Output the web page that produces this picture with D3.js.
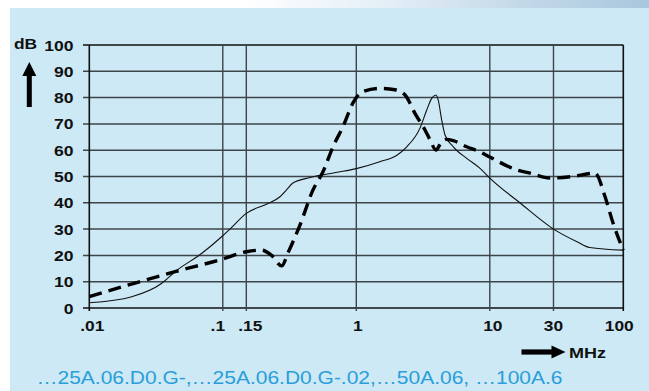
<!DOCTYPE html>
<html>
<head>
<meta charset="utf-8">
<script src="https://cdn.jsdelivr.net/npm/d3@7"></script>
<style>
  html, body { margin: 0; padding: 0; background: #ffffff; }
  svg { display: block; }
  text { font-family: "Liberation Sans", Arial, sans-serif; }
</style>
</head>
<body>
<svg id="chart" width="649" height="391"></svg>
<script>
// Attenuation curves (dB) versus frequency (MHz)
const xTicks = [0.01, 0.1, 0.15, 1, 10, 30, 100];
const xTickLabels = [".01", ".1", ".15", "1", "10", "30", "100"];
const yTicks = [0, 10, 20, 30, 40, 50, 60, 70, 80, 90, 100];

// thin solid curve
const solidFreq = [0.01, 0.0208, 0.0349, 0.0439, 0.0697, 0.098, 0.113, 0.15, 0.22, 0.268, 0.30, 0.335, 0.45, 0.7, 1, 1.5, 2.0, 2.39, 3.0, 3.37, 3.67, 3.95, 4.11, 4.36, 4.62, 5.33, 6.71, 8.45, 10, 16.8, 30, 45, 56, 100];
const solidDb   = [2, 4.3, 9.4, 13.8, 20.8, 27.1, 30, 36, 39.8, 42.3, 44.9, 47.5, 49.6, 51.5, 53, 55.6, 58, 61.3, 68.4, 75.3, 79.7, 81, 79, 71.5, 65.8, 61.3, 56.9, 53.1, 49.4, 40, 30, 25.2, 23, 22];

// thick dashed curve
const dashFreq = [0.01, 0.022, 0.0439, 0.098, 0.15, 0.195, 0.232, 0.276, 0.308, 0.379, 0.474, 0.563, 0.669, 0.795, 0.944, 1.12, 1.51, 1.95, 2.32, 2.75, 3.27, 3.57, 3.95, 4.36, 4.72, 5.33, 6.71, 8.45, 10, 16, 20, 28.2, 42, 61.4, 73, 83.8, 100];
const dashDb   = [4.3, 9.5, 13.8, 18.5, 21.4, 22, 20, 16, 21, 31.6, 44.9, 51.8, 61.3, 69, 78, 82.3, 83.5, 83, 81, 74, 67.7, 63.9, 60.1, 63.2, 64.1, 63.6, 61.3, 59.4, 57.4, 52.5, 51.3, 49.4, 50, 51.3, 42.3, 32.3, 22];

const seriesNote = "…25A.06.D0.G-,…25A.06.D0.G-.02,…50A.06, …100A.6";

const svg = d3.select("#chart");
const W = 649, H = 391;

// panel background and top decorative strip
const defs = svg.append("defs");
const grad = defs.append("linearGradient").attr("id", "strip")
  .attr("x1", "0%").attr("x2", "100%").attr("y1", "0%").attr("y2", "0%");
grad.append("stop").attr("offset", "0%").attr("stop-color", "#ffffff");
grad.append("stop").attr("offset", "38%").attr("stop-color", "#ffffff");
grad.append("stop").attr("offset", "60%").attr("stop-color", "#e3eef6");
grad.append("stop").attr("offset", "80%").attr("stop-color", "#c4d9e8");
grad.append("stop").attr("offset", "100%").attr("stop-color", "#a9c7de");

svg.append("rect").attr("x", 0).attr("y", 0).attr("width", W).attr("height", H).attr("fill", "#ffffff");
svg.append("rect").attr("x", 0).attr("y", 0).attr("width", W).attr("height", 8).attr("fill", "url(#strip)");
svg.append("rect").attr("x", 10).attr("y", 8).attr("width", W - 10).attr("height", H - 8).attr("fill", "#cce9f5");

const x = d3.scaleLog().domain([0.01, 100]).range([89.3, 623.3]);
const y = d3.scaleLinear().domain([0, 100]).range([308, 45]);

const grid = svg.append("g");
// horizontal grid lines with left ticks
grid.selectAll("line.h").data(yTicks).join("line")
  .attr("x1", 83).attr("x2", x(100))
  .attr("y1", d => y(d)).attr("y2", d => y(d))
  .attr("stroke", d => (d === 0 || d === 100) ? "#111" : "#3e4448")
  .attr("stroke-width", d => (d === 0 || d === 100) ? 1.6 : 1.5);
// vertical grid lines with bottom ticks
grid.selectAll("line.v").data(xTicks).join("line")
  .attr("x1", d => x(d)).attr("x2", d => x(d))
  .attr("y1", y(100)).attr("y2", y(0) + 3)
  .attr("stroke", d => (d === 0.01 || d === 100) ? "#111" : "#3e4448")
  .attr("stroke-width", d => (d === 0.01 || d === 100) ? 1.6 : 1.4);

// helper for slightly widened bold labels
function label(g, tx, ty, txt, anchor, size, sx) {
  g.append("text")
    .attr("transform", `translate(${tx},${ty}) scale(${sx},1)`)
    .attr("text-anchor", anchor)
    .attr("font-weight", "bold")
    .attr("font-size", size)
    .attr("fill", "#111")
    .text(txt);
}

// small horizontal nudges so the close .1 / .15 labels stay apart
const xLabelNudge = [3, -5, 4, 1.5, 3, 0, -4];

const labels = svg.append("g");
yTicks.forEach(v => label(labels, 73.5, y(v) + 5.5, String(v), "end", 15, 1.17));
xTicks.forEach((v, i) => label(labels, x(v) + xLabelNudge[i], 331, xTickLabels[i], "middle", 15.5, 1.12));
label(labels, 14, 48.5, "dB", "start", 14.5, 1.2);
label(labels, 569, 357.5, "MHz", "start", 15, 1.2);

// up arrow next to dB
const arrows = svg.append("g").attr("fill", "#000");
arrows.append("rect").attr("x", 26.8).attr("y", 74).attr("width", 5).attr("height", 33);
arrows.append("path").attr("d", "M29.3,62 L36.3,76 L22.3,76 Z");
// right arrow before MHz
arrows.append("rect").attr("x", 521.5).attr("y", 349.4).attr("width", 33).attr("height", 5.2);
arrows.append("path").attr("d", "M565.5,352 L551.5,345.5 L551.5,358.5 Z");

// curves
const solidPts = solidFreq.map((f, i) => [f, solidDb[i]]);
const dashPts = dashFreq.map((f, i) => [f, dashDb[i]]);
const line = d3.line().x(d => x(d[0])).y(d => y(d[1])).curve(d3.curveMonotoneX);

svg.append("path").datum(solidPts).attr("d", line)
  .attr("fill", "none").attr("stroke", "#111").attr("stroke-width", 1.1);
svg.append("path").datum(dashPts).attr("d", line)
  .attr("fill", "none").attr("stroke", "#000").attr("stroke-width", 3.4)
  .attr("stroke-dasharray", "13,7");

// series designations
svg.append("text")
  .attr("x", 36.5).attr("y", 384)
  .attr("font-size", 19)
  .attr("fill", "#2a9ed8")
  .attr("textLength", 526).attr("lengthAdjust", "spacingAndGlyphs")
  .text(seriesNote);
</script>
</body>
</html>
